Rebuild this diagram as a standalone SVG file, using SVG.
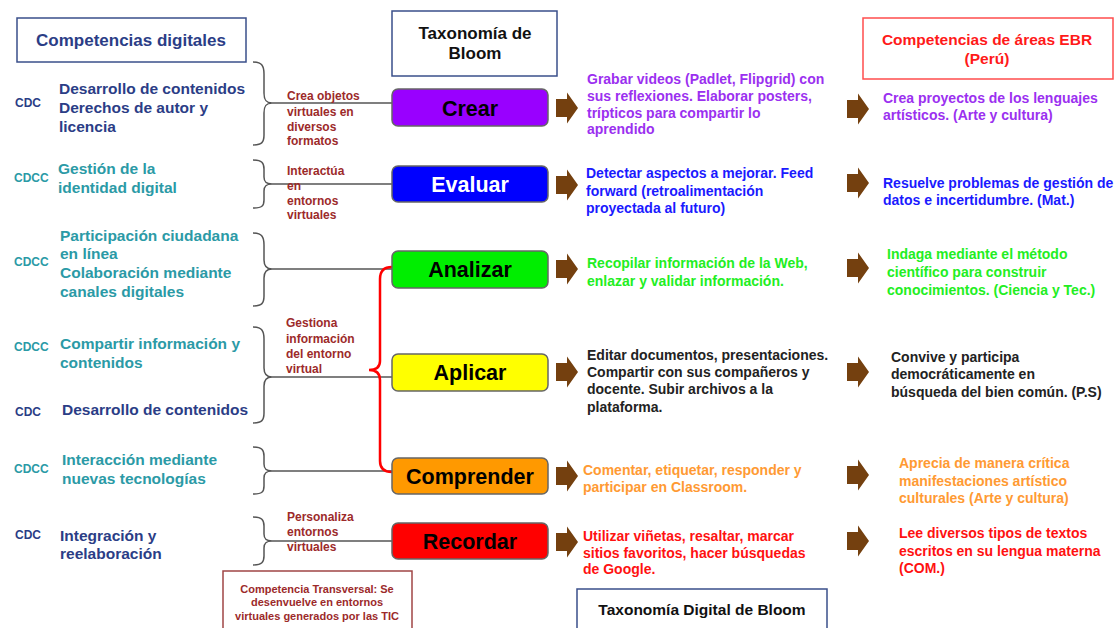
<svg xmlns="http://www.w3.org/2000/svg" width="1116" height="628" viewBox="0 0 1116 628">
<defs>
<style>
text{font-family:"Liberation Sans",Arial,sans-serif;font-weight:bold}
.hdr{font-size:17px;fill:#2b3d86}
.cd{font-size:12px;fill:#2b3d86}
.cdt{font-size:12px;fill:#2b9aa6}
.nav{font-size:15.5px;fill:#2b3d86}
.tea{font-size:15.5px;fill:#2b9aa6}
.lab{font-size:12px;fill:#9c2a2a}
.box{stroke:#666;stroke-width:1.5}
.bl{font-size:21.5px;text-anchor:middle}
.t{font-size:14px}
.brace{fill:none;stroke:#555;stroke-width:1.5}
.conn{fill:none;stroke:#555;stroke-width:1.5}
.arr{fill:#74400f}
</style>
<path id="arrow" d="M0,-9 L11,-9 L11,-15.5 L22,0 L11,15.5 L11,9 L0,9 Z"/>
</defs>
<rect width="1116" height="628" fill="#fff"/>

<g id="hdr-competencias">
<rect x="17" y="18" width="229" height="44" fill="#fff" stroke="#3a4f8a" stroke-width="1.5"/>
<text class="hdr" x="131" y="46" text-anchor="middle">Competencias digitales</text>
</g>
<g id="hdr-bloom">
<rect x="392" y="11" width="165" height="65" fill="#fff" stroke="#3a4f8a" stroke-width="1.5"/>
<text x="475" y="39" text-anchor="middle" font-size="17" fill="#111">Taxonomía de</text>
<text x="475" y="59" text-anchor="middle" font-size="17" fill="#111">Bloom</text>
</g>
<g id="hdr-ebr">
<rect x="863" y="18" width="250" height="61" fill="#fff" stroke="#ff4d4d" stroke-width="1.5"/>
<text x="987" y="45" text-anchor="middle" font-size="15.5" fill="#ff1a1a">Competencias de áreas EBR</text>
<text x="987" y="64" text-anchor="middle" font-size="15.5" fill="#ff1a1a">(Perú)</text>
</g>

<g id="left-1">
<text class="cd" x="15" y="107">CDC</text>
<text class="nav" x="59" y="94">Desarrollo de contenidos</text>
<text class="nav" x="59" y="113">Derechos de autor y</text>
<text class="nav" x="59" y="132">licencia</text>
</g>
<g id="left-2">
<text class="cdt" x="14" y="182">CDCC</text>
<text class="tea" x="58" y="174">Gestión de la</text>
<text class="tea" x="58" y="193">identidad digital</text>
</g>
<g id="left-3">
<text class="cdt" x="14" y="266">CDCC</text>
<text class="tea" x="60" y="241">Participación ciudadana</text>
<text class="tea" x="60" y="259">en línea</text>
<text class="tea" x="60" y="278">Colaboración mediante</text>
<text class="tea" x="60" y="297">canales digitales</text>
</g>
<g id="left-4">
<text class="cdt" x="14" y="351">CDCC</text>
<text class="tea" x="60" y="349">Compartir información y</text>
<text class="tea" x="60" y="368">contenidos</text>
</g>
<g id="left-5">
<text class="cd" x="15" y="416">CDC</text>
<text class="nav" x="62" y="415">Desarrollo de contenidos</text>
</g>
<g id="left-6">
<text class="cdt" x="14" y="473">CDCC</text>
<text class="tea" x="62" y="465">Interacción mediante</text>
<text class="tea" x="62" y="484">nuevas tecnologías</text>
</g>
<g id="left-7">
<text class="cd" x="15" y="539">CDC</text>
<text class="nav" x="60" y="541">Integración y</text>
<text class="nav" x="60" y="559">reelaboración</text>
</g>

<g id="connectors">
<path class="brace" d="M253,62 C262,62 264,66 264,74 L264,93 C264,100 266,103 272,103 C266,103 264,106 264,113 L264,135 C264,142 262,145 253,145"/>
<path class="brace" d="M253,160 C262,160 264,163 264,169 L264,177 C264,182 266,184 272,184 C266,184 264,186 264,191 L264,200 C264,206 262,208 253,208"/>
<path class="brace" d="M253,233 C262,233 264,237 264,245 L264,260 C264,266 266,269 272,269 C266,269 264,272 264,278 L264,296 C264,303 262,306 253,306"/>
<path class="brace" d="M253,327 C262,327 264,331 264,339 L264,368 C264,374 266,377 272,377 C266,377 264,380 264,386 L264,413 C264,420 262,423 253,423"/>
<path class="brace" d="M253,447 C262,447 264,450 264,456 L264,464 C264,469 266,471 272,471 C266,471 264,473 264,478 L264,486 C264,492 262,494 253,494"/>
<path class="brace" d="M253,517 C262,517 264,520 264,526 L264,534 C264,539 266,541 272,541 C266,541 264,543 264,548 L264,556 C264,562 262,565 253,565"/>
<line class="conn" x1="272" y1="103" x2="392" y2="103"/>
<line class="conn" x1="272" y1="184" x2="392" y2="184"/>
<line class="conn" x1="272" y1="269" x2="392" y2="269"/>
<line class="conn" x1="272" y1="377" x2="392" y2="377"/>
<line class="conn" x1="272" y1="471" x2="392" y2="471"/>
<line class="conn" x1="272" y1="541" x2="392" y2="541"/>
<path d="M392,267 C384,267 380,271 380,279 L380,361 C380,367 376,370 369,370 C376,370 380,373 380,380 L380,461 C380,468 384,472 392,472" fill="none" stroke="#ff0000" stroke-width="2.5"/>
<use href="#arrow" class="arr" x="556" y="108"/>
<use href="#arrow" class="arr" x="556" y="185"/>
<use href="#arrow" class="arr" x="556" y="269"/>
<use href="#arrow" class="arr" x="556" y="372"/>
<use href="#arrow" class="arr" x="556" y="476"/>
<use href="#arrow" class="arr" x="556" y="542"/>
<use href="#arrow" class="arr" x="847" y="109"/>
<use href="#arrow" class="arr" x="847" y="183"/>
<use href="#arrow" class="arr" x="847" y="268"/>
<use href="#arrow" class="arr" x="847" y="372"/>
<use href="#arrow" class="arr" x="847" y="475"/>
<use href="#arrow" class="arr" x="847" y="541"/>
</g>

<g id="label-crea">
<text class="lab" x="287" y="100">Crea objetos</text>
<text class="lab" x="287" y="116">virtuales en</text>
<text class="lab" x="287" y="131">diversos</text>
<text class="lab" x="287" y="145">formatos</text>
</g>
<g id="label-interactua">
<text class="lab" x="287" y="175">Interactúa</text>
<text class="lab" x="287" y="190">en</text>
<text class="lab" x="287" y="205">entornos</text>
<text class="lab" x="287" y="219">virtuales</text>
</g>
<g id="label-gestiona">
<text class="lab" x="286" y="327">Gestiona</text>
<text class="lab" x="286" y="343">información</text>
<text class="lab" x="286" y="358">del entorno</text>
<text class="lab" x="286" y="373">virtual</text>
</g>
<g id="label-personaliza">
<text class="lab" x="287" y="521">Personaliza</text>
<text class="lab" x="287" y="536">entornos</text>
<text class="lab" x="287" y="551">virtuales</text>
</g>

<g id="crear">
<rect class="box" x="392" y="89" width="156" height="37" rx="6" fill="#9900ff"/>
<text class="bl" x="470" y="116" fill="#000">Crear</text>
</g>
<g id="evaluar">
<rect class="box" x="392" y="166" width="156" height="36" rx="6" fill="#0000ff"/>
<text class="bl" x="470" y="192" fill="#fff">Evaluar</text>
</g>
<g id="analizar">
<rect class="box" x="392" y="251" width="156" height="37" rx="6" fill="#00ee00"/>
<text class="bl" x="470" y="277" fill="#000">Analizar</text>
</g>
<g id="aplicar">
<rect class="box" x="392" y="354" width="156" height="37" rx="6" fill="#ffff00"/>
<text class="bl" x="470" y="380" fill="#000">Aplicar</text>
</g>
<g id="comprender">
<rect class="box" x="392" y="458" width="156" height="36" rx="6" fill="#ff9900"/>
<text class="bl" x="470" y="484" fill="#000">Comprender</text>
</g>
<g id="recordar">
<rect class="box" x="392" y="523" width="156" height="36" rx="6" fill="#ff0000"/>
<text class="bl" x="470" y="549" fill="#000">Recordar</text>
</g>

<g id="desc-crear" fill="#9b30f0">
<text class="t" x="587" y="84">Grabar videos (Padlet, Flipgrid) con</text>
<text class="t" x="587" y="101">sus reflexiones. Elaborar posters,</text>
<text class="t" x="587" y="118">trípticos para compartir lo</text>
<text class="t" x="587" y="134">aprendido</text>
</g>
<g id="desc-evaluar" fill="#1a1aff">
<text class="t" x="586" y="178">Detectar aspectos a mejorar. Feed</text>
<text class="t" x="586" y="196">forward (retroalimentación</text>
<text class="t" x="586" y="213">proyectada al futuro)</text>
</g>
<g id="desc-analizar" fill="#22ee22">
<text class="t" x="587" y="268">Recopilar información de la Web,</text>
<text class="t" x="587" y="286">enlazar y validar información.</text>
</g>
<g id="desc-aplicar" fill="#222">
<text class="t" x="587" y="360">Editar documentos, presentaciones.</text>
<text class="t" x="587" y="377">Compartir con sus compañeros y</text>
<text class="t" x="587" y="394">docente. Subir archivos a la</text>
<text class="t" x="587" y="412">plataforma.</text>
</g>
<g id="desc-comprender" fill="#ff9a33">
<text class="t" x="583" y="475">Comentar, etiquetar, responder y</text>
<text class="t" x="583" y="492">participar en Classroom.</text>
</g>
<g id="desc-recordar" fill="#ff1111">
<text class="t" x="583" y="541">Utilizar viñetas, resaltar, marcar</text>
<text class="t" x="583" y="558">sitios favoritos, hacer búsquedas</text>
<text class="t" x="583" y="574">de Google.</text>
</g>

<g id="ebr-crear" fill="#9b30f0">
<text class="t" x="883" y="103">Crea proyectos de los lenguajes</text>
<text class="t" x="883" y="120">artísticos. (Arte y cultura)</text>
</g>
<g id="ebr-evaluar" fill="#1a1aff">
<text class="t" x="883" y="188">Resuelve problemas de gestión de</text>
<text class="t" x="883" y="205">datos e incertidumbre. (Mat.)</text>
</g>
<g id="ebr-analizar" fill="#22ee22">
<text class="t" x="887" y="259">Indaga mediante el método</text>
<text class="t" x="887" y="277">científico para construir</text>
<text class="t" x="887" y="295">conocimientos. (Ciencia y Tec.)</text>
</g>
<g id="ebr-aplicar" fill="#222">
<text class="t" x="891" y="362">Convive y participa</text>
<text class="t" x="891" y="379">democráticamente en</text>
<text class="t" x="891" y="397">búsqueda del bien común. (P.S)</text>
</g>
<g id="ebr-comprender" fill="#ff9a33">
<text class="t" x="899" y="468">Aprecia de manera crítica</text>
<text class="t" x="899" y="486">manifestaciones artístico</text>
<text class="t" x="899" y="503">culturales (Arte y cultura)</text>
</g>
<g id="ebr-recordar" fill="#ff1111">
<text class="t" x="899" y="538">Lee diversos tipos de textos</text>
<text class="t" x="899" y="556">escritos en su lengua materna</text>
<text class="t" x="899" y="573">(COM.)</text>
</g>

<g id="transversal">
<rect x="223" y="571" width="189" height="70" fill="#fff" stroke="#a04545" stroke-width="1.5"/>
<text x="317" y="593" text-anchor="middle" font-size="11" fill="#9c2a2a">Competencia Transversal: Se</text>
<text x="317" y="606" text-anchor="middle" font-size="11" fill="#9c2a2a">desenvuelve en entornos</text>
<text x="317" y="620" text-anchor="middle" font-size="11" fill="#9c2a2a">virtuales generados por las TIC</text>
</g>
<g id="hdr-digital">
<rect x="577" y="589" width="250" height="50" fill="#fff" stroke="#3a4f8a" stroke-width="1.5"/>
<text x="702" y="615" text-anchor="middle" font-size="15.5" fill="#111">Taxonomía Digital de Bloom</text>
</g>
</svg>
